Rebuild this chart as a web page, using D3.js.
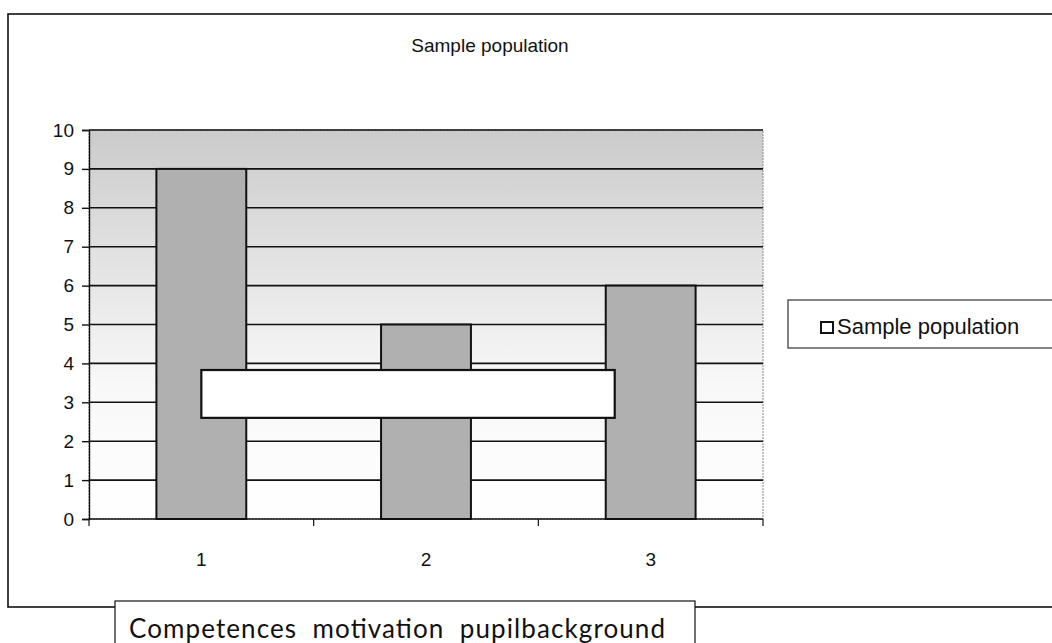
<!DOCTYPE html>
<head>
  <meta charset="utf-8">
  <script src='https://d3js.org/d3.v7.min.js'></script>
  <style>
    body {
      font-family: Arial, "Liberation Sans", sans-serif;
      margin: 0;
      background: #fff;
    }
  </style>
</head>

<body>
<div id='vis'></div>

<script>
// data
const categories = ["1", "2", "3"];
const values = [9, 5, 6];
const yTicks = [0, 1, 2, 3, 4, 5, 6, 7, 8, 9, 10];
const seriesName = "Sample population";
const chartTitle = "Sample population";
const caption = "Competences  motivation  pupilbackground";
// blank box laid over the bars, in value space: [from category, to category, low, high]
const blankBox = [[1, 2.84, 2.6, 3.83]];

const width = 1052;
const height = 643;
const plot = { left: 89, right: 763, top: 130, bottom: 519 };

const svg = d3.select('#vis')
  .append('svg')
  .attr('width', width)
  .attr('height', height);

const defs = svg.append('defs');
const grad = defs.append('linearGradient')
  .attr('id', 'bg')
  .attr('x1', 0).attr('y1', 0).attr('x2', 0).attr('y2', 1);
grad.append('stop').attr('offset', '0%').attr('stop-color', '#cbcbcb');
grad.append('stop').attr('offset', '30%').attr('stop-color', '#e0e0e0');
grad.append('stop').attr('offset', '65%').attr('stop-color', '#f8f8f8');
grad.append('stop').attr('offset', '100%').attr('stop-color', '#ffffff');

// outer chart frame
svg.append('rect')
  .attr('x', 8).attr('y', 14)
  .attr('width', width + 20).attr('height', 593)
  .attr('fill', 'none')
  .attr('stroke', '#111')
  .attr('stroke-width', 1.6);

const x = d3.scaleBand()
  .domain(categories)
  .range([plot.left, plot.right])
  .paddingInner(0.6)
  .paddingOuter(0.3);

const y = d3.scaleLinear()
  .domain([0, 10])
  .range([plot.bottom, plot.top]);

// plot area background
svg.append('rect')
  .attr('x', plot.left).attr('y', plot.top)
  .attr('width', plot.right - plot.left)
  .attr('height', plot.bottom - plot.top)
  .attr('fill', 'url(#bg)')
  .attr('stroke', '#888')
  .attr('stroke-width', 1)
  .attr('stroke-dasharray', '2,1');

// gridlines
svg.append('g')
  .selectAll('line')
  .data(yTicks.filter(d => d > 0))
  .enter()
  .append('line')
  .attr('x1', plot.left).attr('x2', plot.right)
  .attr('y1', d => y(d)).attr('y2', d => y(d))
  .attr('stroke', '#111')
  .attr('stroke-width', 1.6);

// y axis
const yAxis = svg.append('g')
  .attr('transform', `translate(${plot.left},0)`)
  .call(d3.axisLeft(y).tickValues(yTicks).tickSize(7).tickPadding(8));
yAxis.selectAll('text')
  .style('font-family', 'Arial, "Liberation Sans", sans-serif')
  .style('font-size', '19px')
  .attr('fill', '#111');
yAxis.selectAll('line, path').attr('stroke', '#111').attr('stroke-width', 1.4);

// bars
svg.append('g')
  .selectAll('rect')
  .data(values)
  .enter()
  .append('rect')
  .attr('x', (d, i) => x(categories[i]))
  .attr('y', d => y(d))
  .attr('width', x.bandwidth())
  .attr('height', d => y(0) - y(d))
  .attr('fill', '#b0b0b0')
  .attr('stroke', '#111')
  .attr('stroke-width', 2);

// x axis with ticks between categories
const step = x.step();
const xAxis = svg.append('g')
  .attr('transform', `translate(0,${plot.bottom})`);
xAxis.append('line')
  .attr('x1', plot.left).attr('x2', plot.right)
  .attr('stroke', '#111').attr('stroke-width', 1.6);
xAxis.selectAll('.tk')
  .data(d3.range(categories.length + 1))
  .enter()
  .append('line')
  .attr('x1', i => plot.left + i * step)
  .attr('x2', i => plot.left + i * step)
  .attr('y1', 0).attr('y2', 7)
  .attr('stroke', '#111').attr('stroke-width', 1.2);
xAxis.selectAll('text')
  .data(categories)
  .enter()
  .append('text')
  .attr('x', d => x(d) + x.bandwidth() / 2)
  .attr('y', 47)
  .attr('text-anchor', 'middle')
  .style('font-size', '19px')
  .attr('fill', '#111')
  .text(d => d);

// blank box over the bars
svg.append('g')
  .selectAll('rect')
  .data(blankBox)
  .enter()
  .append('rect')
  .attr('x', d => x(categories[0]) + x.bandwidth() / 2 + (d[0] - 1) * step)
  .attr('y', d => y(d[3]))
  .attr('width', d => (d[1] - d[0]) * step)
  .attr('height', d => y(d[2]) - y(d[3]))
  .attr('fill', '#fff')
  .attr('stroke', '#111')
  .attr('stroke-width', 2.2);

// title
svg.append('text')
  .attr('x', 490)
  .attr('y', 52)
  .attr('text-anchor', 'middle')
  .style('font-size', '19px')
  .attr('fill', '#111')
  .text(chartTitle);

// legend
const legend = svg.append('g').attr('transform', 'translate(788,300)');
legend.append('rect')
  .attr('width', 280).attr('height', 48)
  .attr('fill', '#fff')
  .attr('stroke', '#333').attr('stroke-width', 1.2);
legend.append('rect')
  .attr('x', 33).attr('y', 22)
  .attr('width', 12).attr('height', 11)
  .attr('fill', '#fff')
  .attr('stroke', '#111').attr('stroke-width', 2);
legend.append('text')
  .attr('x', 49).attr('y', 34)
  .style('font-size', '22px')
  .attr('fill', '#111')
  .text(seriesName);

// caption box at the bottom
const cap = svg.append('g').attr('transform', 'translate(115,601)');
cap.append('rect')
  .attr('width', 580).attr('height', 60)
  .attr('fill', '#fff')
  .attr('stroke', '#111').attr('stroke-width', 1.2);
cap.append('text')
  .attr('x', 14).attr('y', 37)
  .style('font-family', 'Lato, "Open Sans", sans-serif')
  .style('font-size', '26px')
  .style('white-space', 'pre')
  .attr('textLength', 536)
  .attr('lengthAdjust', 'spacing')
  .attr('fill', '#111')
  .text(caption);
</script>
</body>
